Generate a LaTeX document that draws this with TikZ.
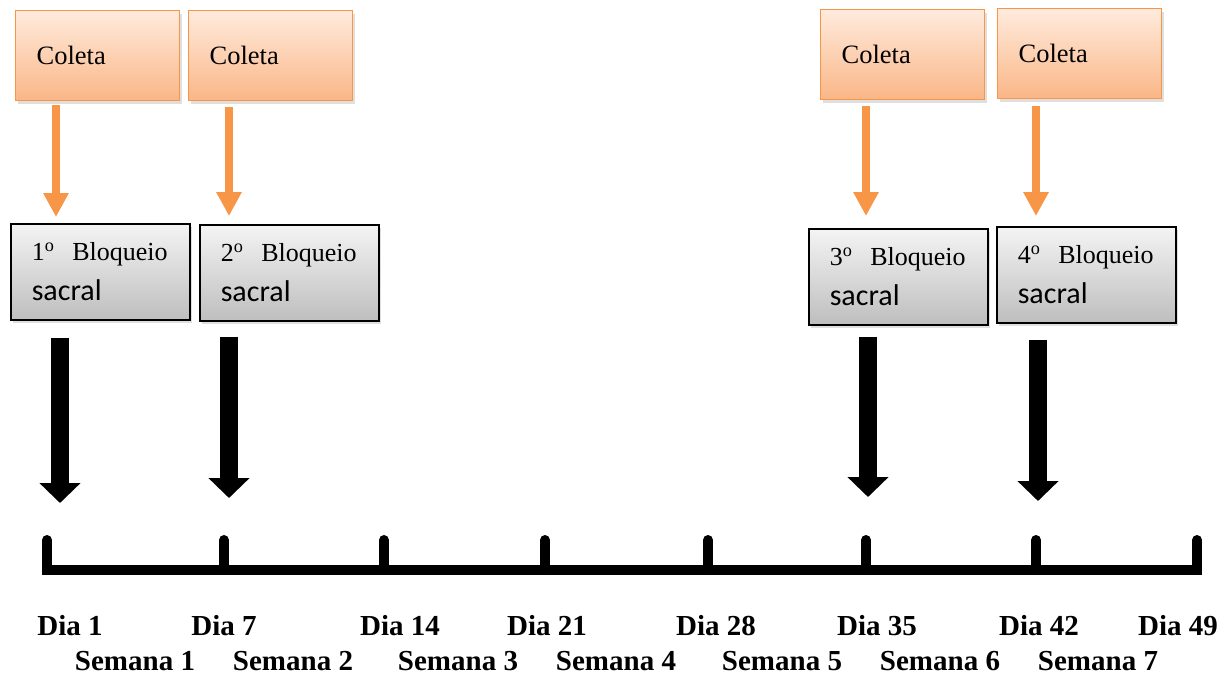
\documentclass[tikz,border=0pt]{standalone}
\usepackage{fontspec}
\setmainfont{Liberation Serif}
\newfontfamily\calib{Carlito}
\usetikzlibrary{arrows.meta,shadows}
\definecolor{orng}{HTML}{F79646}
\definecolor{otop}{HTML}{FFEBDD}
\definecolor{obot}{HTML}{FAB687}
\definecolor{gtop}{HTML}{F4F4F4}
\definecolor{gbot}{HTML}{BEBEBE}
\newcommand{\blq}[1]{#1\textsuperscript{o}\hspace{18pt}Bloqueio\\{\calib\fontsize{30}{40}\selectfont sacral}}
\tikzset{
  colbox/.style={draw=orng, line width=1.3pt, top color=otop, bottom color=obot,
    anchor=north west, minimum height=90pt, inner xsep=21pt, text width=122pt, align=left,
    font=\fontsize{26.5}{30}\selectfont,
    drop shadow={shadow xshift=2pt, shadow yshift=-3pt, opacity=0.25}},
  blqbox/.style={draw=black, line width=1.5pt, top color=gtop, bottom color=gbot,
    anchor=north west, minimum height=96pt, align=left, inner xsep=21pt, text width=137pt,
    font=\fontsize{26}{40}\selectfont,
    drop shadow={shadow xshift=2pt, shadow yshift=-3pt, opacity=0.25}},
  oarrow/.style={draw=orng, line width=8pt, -{Triangle[width=24pt,length=24pt]}, orng},
  karrow/.style={draw=black, line width=18pt, -{Triangle[width=40pt,length=20pt]}},
  bar/.style={line width=10pt, line cap=rect},
  tickmark/.style={line width=10pt, line cap=round},
  dia/.style={font=\bfseries\fontsize{29}{32}\selectfont, inner sep=0pt},
}
\begin{document}
\begin{tikzpicture}[x=1pt,y=-1pt]
\useasboundingbox (0,0) rectangle (1231,675);

% Coleta boxes
\node[colbox] (c1) at (15,10) {Coleta};
\node[colbox] (c2) at (188,10) {Coleta};
\node[colbox] (c3) at (820,9) {Coleta};
\node[colbox] (c4) at (997,8) {Coleta};

% Bloqueio boxes
\node[blqbox] (b1) at (10,223) {\blq{1}};
\node[blqbox] (b2) at (199,224) {\blq{2}};
\node[blqbox] (b3) at (808,228) {\blq{3}};
\node[blqbox] (b4) at (996,226) {\blq{4}};

% orange arrows
\coordinate (ox1) at (56,0);
\coordinate (ox2) at (229,0);
\coordinate (ox3) at (866,0);
\coordinate (ox4) at (1036,0);
\draw[oarrow, shorten <=4pt, shorten >=6pt] (c1.south -| ox1) -- (b1.north -| ox1);
\draw[oarrow, shorten <=6pt, shorten >=8pt] (c2.south -| ox2) -- (b2.north -| ox2);
\draw[oarrow, shorten <=6pt, shorten >=12pt] (c3.south -| ox3) -- (b3.north -| ox3);
\draw[oarrow, shorten <=7pt, shorten >=10pt] (c4.south -| ox4) -- (b4.north -| ox4);

% timeline
\coordinate (t1) at (47,570);
\coordinate (t2) at (224,570);
\coordinate (t3) at (384,570);
\coordinate (t4) at (545,570);
\coordinate (t5) at (708,570);
\coordinate (t6) at (866,570);
\coordinate (t7) at (1036,570);
\coordinate (t8) at (1197,570);
\foreach \t in {t1,t2,t3,t4,t5,t6,t7,t8}
  \draw[tickmark] (\t) -- ++(0,-30);
\draw[bar] (t1) -- (t8);

% black arrows
\coordinate (ka1) at (60,503);
\coordinate (ka2) at (229,498);
\coordinate (ka3) at (868,497);
\coordinate (ka4) at (1038,501);
\draw[karrow] (b1.south -| ka1) ++(0,17) -- (ka1);
\draw[karrow] (b2.south -| ka2) ++(0,15) -- (ka2);
\draw[karrow] (b3.south -| ka3) ++(0,11) -- (ka3);
\draw[karrow] (b4.south -| ka4) ++(0,16) -- (ka4);

% labels
\node[dia] (d1) at (70,626) {Dia 1};
\node[dia] (d2) at (224,626) {Dia 7};
\node[dia] (d3) at (400,626) {Dia 14};
\node[dia] (d4) at (547,626) {Dia 21};
\node[dia] (d5) at (716,626) {Dia 28};
\node[dia] (d6) at (877,626) {Dia 35};
\node[dia] (d7) at (1039,626) {Dia 42};
\node[dia] (d8) at (1178,626) {Dia 49};

\node[dia] (s1) at (135,661) {Semana 1};
\node[dia] (s2) at (293,661) {Semana 2};
\node[dia] (s3) at (458,661) {Semana 3};
\node[dia] (s4) at (616,661) {Semana 4};
\node[dia] (s5) at (782,661) {Semana 5};
\node[dia] (s6) at (940,661) {Semana 6};
\node[dia] (s7) at (1098,661) {Semana 7};
\end{tikzpicture}
\end{document}
